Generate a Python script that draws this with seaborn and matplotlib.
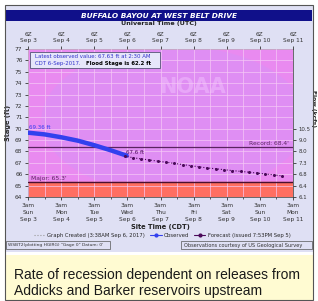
import numpy as np
import pandas as pd
import seaborn as sns
import matplotlib.pyplot as plt
import matplotlib.dates as mdates
from matplotlib.patches import Rectangle, Circle
from matplotlib.lines import Line2D

obs_time = ['2017-09-03 03:00', '2017-09-03 15:00', '2017-09-04 03:00', '2017-09-04 15:00',
            '2017-09-05 03:00', '2017-09-05 15:00', '2017-09-06 02:30']
obs_stage = [69.65, 69.5, 69.25, 68.95, 68.55, 68.1, 67.63]

fc_time = ['2017-09-06 01:00', '2017-09-06 07:00', '2017-09-06 13:00', '2017-09-06 19:00',
           '2017-09-07 01:00', '2017-09-07 07:00', '2017-09-07 13:00', '2017-09-07 19:00',
           '2017-09-08 01:00', '2017-09-08 07:00', '2017-09-08 13:00', '2017-09-08 19:00',
           '2017-09-09 01:00', '2017-09-09 07:00', '2017-09-09 13:00', '2017-09-09 19:00',
           '2017-09-10 01:00', '2017-09-10 07:00', '2017-09-10 13:00', '2017-09-10 19:00']
fc_stage = [67.6, 67.45, 67.35, 67.25, 67.15, 67.05, 66.95, 66.85,
            66.75, 66.65, 66.55, 66.48, 66.4, 66.32, 66.25, 66.18,
            66.1, 66.02, 65.95, 65.85]

stage_ticks = [64, 65, 66, 67, 68, 69, 70, 71, 72, 73, 74, 75, 76, 77]
flow_ticks = [64, 65, 66, 67, 68, 69, 70]
flow_labels = ['6.1', '6.4', '6.8', '7.3', '8.0', '9.0', '10.5']
days = ['Sun', 'Mon', 'Tue', 'Wed', 'Thu', 'Fri', 'Sat', 'Sun', 'Mon']
dates = ['Sep 3', 'Sep 4', 'Sep 5', 'Sep 6', 'Sep 7', 'Sep 8', 'Sep 9', 'Sep 10', 'Sep 11']
major_stage = 65.3
record_stage = 68.4

obs = pd.DataFrame({'time': pd.to_datetime(obs_time), 'stage': obs_stage})
fc = pd.DataFrame({'time': pd.to_datetime(fc_time), 'stage': fc_stage})

sns.set_style('ticks')
plt.rcParams['font.family'] = ['DejaVu Sans']

W, H = 318, 301
fig = plt.figure(figsize=(W / 100, H / 100), dpi=100)
fig.patch.set_facecolor('white')

def fx(px):
    return px / W

def fy(py):
    return 1 - py / H

# frame, lavender panel, title bar
fig.patches.append(Rectangle((fx(5), fy(252)), fx(308), 247 / H, transform=fig.transFigure,
                             facecolor='#dfe0f4', edgecolor='none', zorder=-5))
fig.patches.append(Rectangle((fx(5), fy(300)), fx(308), 295 / H, transform=fig.transFigure,
                             facecolor='none', edgecolor='#555555', lw=0.8, zorder=5))
fig.patches.append(Rectangle((fx(6), fy(21)), fx(306), 11 / H, transform=fig.transFigure,
                             facecolor='#10108a', edgecolor='none'))
fig.text(0.5, fy(15.5), 'BUFFALO BAYOU AT WEST BELT DRIVE', color='white', fontsize=5.3,
         fontweight='bold', style='italic', ha='center', va='center')
fig.text(0.5, fy(24), 'Universal Time (UTC)', fontsize=4.6, fontweight='bold',
         ha='center', va='center', color='#222222')

ax = fig.add_axes([fx(28), fy(197), fx(265), 148 / H])
x0 = pd.Timestamp('2017-09-03 03:00')
x1 = pd.Timestamp('2017-09-11 03:00')
ax.set_xlim(x0, x1)
ax.set_ylim(64, 77)
ax.set_facecolor('#e98af0')

# NOAA watermark (faint)
ax.add_patch(Circle((0.55, 0.52), 0.5, transform=ax.transAxes, facecolor='#c49cff',
                    alpha=0.25, edgecolor='none', zorder=0.2))
ax.text(0.62, 0.74, 'NOAA', transform=ax.transAxes, fontsize=15, color='#f3c6ff',
        alpha=0.45, ha='center', va='center', fontweight='bold', zorder=0.3)

# flood category fill
ax.axhspan(64, major_stage, color='#ff6f61', zorder=0.7)
ax.axhline(major_stage, color='#4a1030', lw=1.0, zorder=3)
ax.axhline(record_stage, color='#5a2460', lw=0.9, zorder=3)

ax.xaxis.set_minor_locator(mdates.HourLocator(byhour=[15]))
ax.set_yticks(stage_ticks)
ax.set_axisbelow(False)
ax.grid(True, which='both', color='#f6c9f6', lw=0.6, alpha=0.8)

sns.lineplot(data=obs, x='time', y='stage', ax=ax, color='#3240ee', lw=3.2, zorder=4)
sns.lineplot(data=fc, x='time', y='stage', ax=ax, color='#4a0a5a', lw=0.8, ls=':',
             marker='o', markersize=2.2, markeredgewidth=0, zorder=4)

ax.text(obs['time'][0] + pd.Timedelta(hours=1), 69.95, '69.36 ft', fontsize=4, color='#3240ee')
ax.text(fc['time'][0] + pd.Timedelta(hours=1), 67.8, '67.6 ft', fontsize=4, color='#4a0a5a')
ax.text(0.985, (record_stage + 0.08 - 64) / 13, "Record: 68.4'", transform=ax.transAxes,
        fontsize=4.3, color='#5a2460', ha='right', va='bottom')
ax.text(0.012, (major_stage + 0.08 - 64) / 13, "Major: 65.3'", transform=ax.transAxes,
        fontsize=4.3, color='#5a2460', ha='left', va='bottom')

# info box
ax.add_patch(Rectangle((0.008, 0.872), 0.49, 0.11, transform=ax.transAxes,
                       facecolor='#e6e6fa', edgecolor='#555577', lw=0.6, zorder=5))
ax.text(0.028, 0.952, 'Latest observed value: 67.63 ft at 2:30 AM', transform=ax.transAxes,
        fontsize=3.9, color='#3333cc', va='center', zorder=6)
ax.text(0.028, 0.905, 'CDT 6-Sep-2017.', transform=ax.transAxes,
        fontsize=3.9, color='#3333cc', va='center', zorder=6)
ax.text(0.22, 0.905, 'Flood Stage is 62.2 ft', transform=ax.transAxes,
        fontsize=3.9, color='black', fontweight='bold', va='center', zorder=6)

tick_pos = pd.date_range(x0, x1, freq='D')
ax.set_xticks(tick_pos)
ax.set_xticklabels([f'3am\n{d}\n{s}' for d, s in zip(days, dates)], linespacing=1.55)
ax.tick_params(axis='both', labelsize=4.2, colors='#333333', length=2.5, width=0.6, pad=1.5)
ax.tick_params(axis='x', which='minor', length=1.5, width=0.5)
ax.set_xlabel('')
ax.set_ylabel('Stage (ft)', fontsize=4.8, fontweight='bold', labelpad=3)
for s in ax.spines.values():
    s.set_color('#555555')
    s.set_linewidth(0.6)

top = ax.twiny()
top.set_xlim(ax.get_xlim())
top.set_xticks(ax.get_xticks())
top.set_xticklabels([f'6Z\n{s}' for s in dates], linespacing=1.3)
top.tick_params(labelsize=4.2, colors='#333333', length=2.5, width=0.6, pad=1.5)

right = ax.twinx()
right.set_ylim(64, 77)
right.set_yticks(flow_ticks)
right.set_yticklabels(flow_labels)
right.tick_params(labelsize=3.9, colors='#333333', length=2.5, width=0.6, pad=1.2)
right.set_ylabel('Flow (kcfs)', fontsize=4.3, fontweight='bold', rotation=270)
right.yaxis.set_label_coords(1.088, 0.6)
for a in (top, right):
    for s in a.spines.values():
        s.set_visible(False)

fig.text(fx(160.5), fy(227), 'Site Time (CDT)', fontsize=4.8, fontweight='bold',
         ha='center', va='center', color='#222222')

# legend strip
handles = [Line2D([], [], color='#999999', ls=':', lw=0.8),
           Line2D([], [], color='#3240ee', lw=0.8, marker='o', markersize=2),
           Line2D([], [], color='#4a0a5a', lw=0.8, marker='o', markersize=2)]
labels = ['Graph Created (3:38AM Sep 6, 2017)', 'Observed', 'Forecast (issued 7:53PM Sep 5)']
fig.legend(handles, labels, loc='center', bbox_to_anchor=(fx(162), fy(235.5)), ncol=3,
           fontsize=3.8, frameon=False, handlelength=2.2, handletextpad=0.4, columnspacing=0.9)

# footer boxes
fig.patches.append(Rectangle((fx(6), fy(249)), fx(104), 8 / H, transform=fig.transFigure,
                             facecolor='none', edgecolor='#555555', lw=0.5))
fig.text(fx(8), fy(245), 'WSBT2(plotting HGIRG) "Gage 0" Datum: 0\'', fontsize=3.2,
         va='center', color='#333333')
fig.patches.append(Rectangle((fx(181), fy(249)), fx(131), 8 / H, transform=fig.transFigure,
                             facecolor='none', edgecolor='#555555', lw=0.5))
fig.text(fx(184), fy(245), 'Observations courtesy of US Geological Survey', fontsize=3.6,
         va='center', color='#333333')

# caption box
fig.patches.append(Rectangle((fx(5), fy(300)), fx(308), 45 / H, transform=fig.transFigure,
                             facecolor='#fffbd2', edgecolor='none', zorder=-4))
fig.text(fx(14), fy(274.5), 'Rate of recession dependent on releases from', fontsize=10,
         family='Liberation Sans', va='center', color='#1a1a1a')
fig.text(fx(14), fy(291), 'Addicks and Barker reservoirs upstream', fontsize=10,
         family='Liberation Sans', va='center', color='#1a1a1a')

fig.savefig('out.png', dpi=100)
